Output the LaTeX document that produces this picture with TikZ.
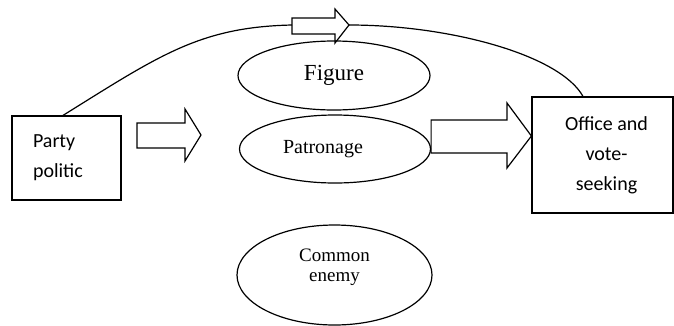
\documentclass[tikz,border=0pt]{standalone}
\usepackage{fontspec}
\usetikzlibrary{shapes.geometric}
\setmainfont{Liberation Serif}
\newfontfamily\calib{Carlito}
\begin{document}
\begin{tikzpicture}[x=1pt,y=-1pt,line width=1.2pt,
  boxnode/.style={draw,rectangle,inner sep=0pt},
  oval/.style={draw,ellipse,inner sep=0pt},
  blockarrow/.style={draw,line join=miter}]
\useasboundingbox (0,0) rectangle (674,325);
% boxes
\node[boxnode,minimum width=109pt,minimum height=84pt,text width=67pt,align=left,inner xsep=21pt,
  font=\calib\fontsize{20}{30}\selectfont] (party) at (66.5,158) {Party\\politic};
\node[boxnode,minimum width=141pt,minimum height=116pt,align=center,
  font=\calib\fontsize{20}{30}\selectfont] (office) at (602.5,155) {\hspace*{8pt}Office and\\\hspace*{8pt}vote-\\\hspace*{8pt}seeking};
% ellipses
\node[oval,minimum width=192pt,minimum height=69pt,font=\fontsize{23}{26}\selectfont] (figure) at (334,75.5) {Figure};
\node[oval,minimum width=191pt,minimum height=68pt,font=\fontsize{20}{24}\selectfont] (patronage) at (335,149) {Patronage\hspace*{24pt}};
\node[oval,minimum width=195pt,minimum height=100pt,align=center,font=\fontsize{19}{20}\selectfont] (enemy) at (334.5,275) {Common\\enemy\\\rule{0pt}{0pt}};
% top block arrow
\coordinate (ta) at (292,25);
\coordinate (tb) at (349,25);
\draw[blockarrow] (292,18) -- (335,18) -- (335,9) -- (tb) -- (335,43) -- (335,34) -- (292,34) -- cycle;
% left block arrow
\draw[blockarrow] (137,123) -- (185,123) -- (185,109) -- (201,135) -- (185,161) -- (185,148) -- (137,148) -- cycle;
% right block arrow
\draw[blockarrow] (patronage.east |- 0,120) -- (507,120) -- (507,103) -- (office.west |- 0,136) -- (507,168) -- (507,153) -- (patronage.east |- 0,153) -- cycle;
% curves
\draw (party.north -| 63,0) .. controls (160,55) and (200,27) .. (ta);
\draw (tb) .. controls (450,25) and (560,55) .. (office.north -| 583,0);
\end{tikzpicture}
\end{document}
